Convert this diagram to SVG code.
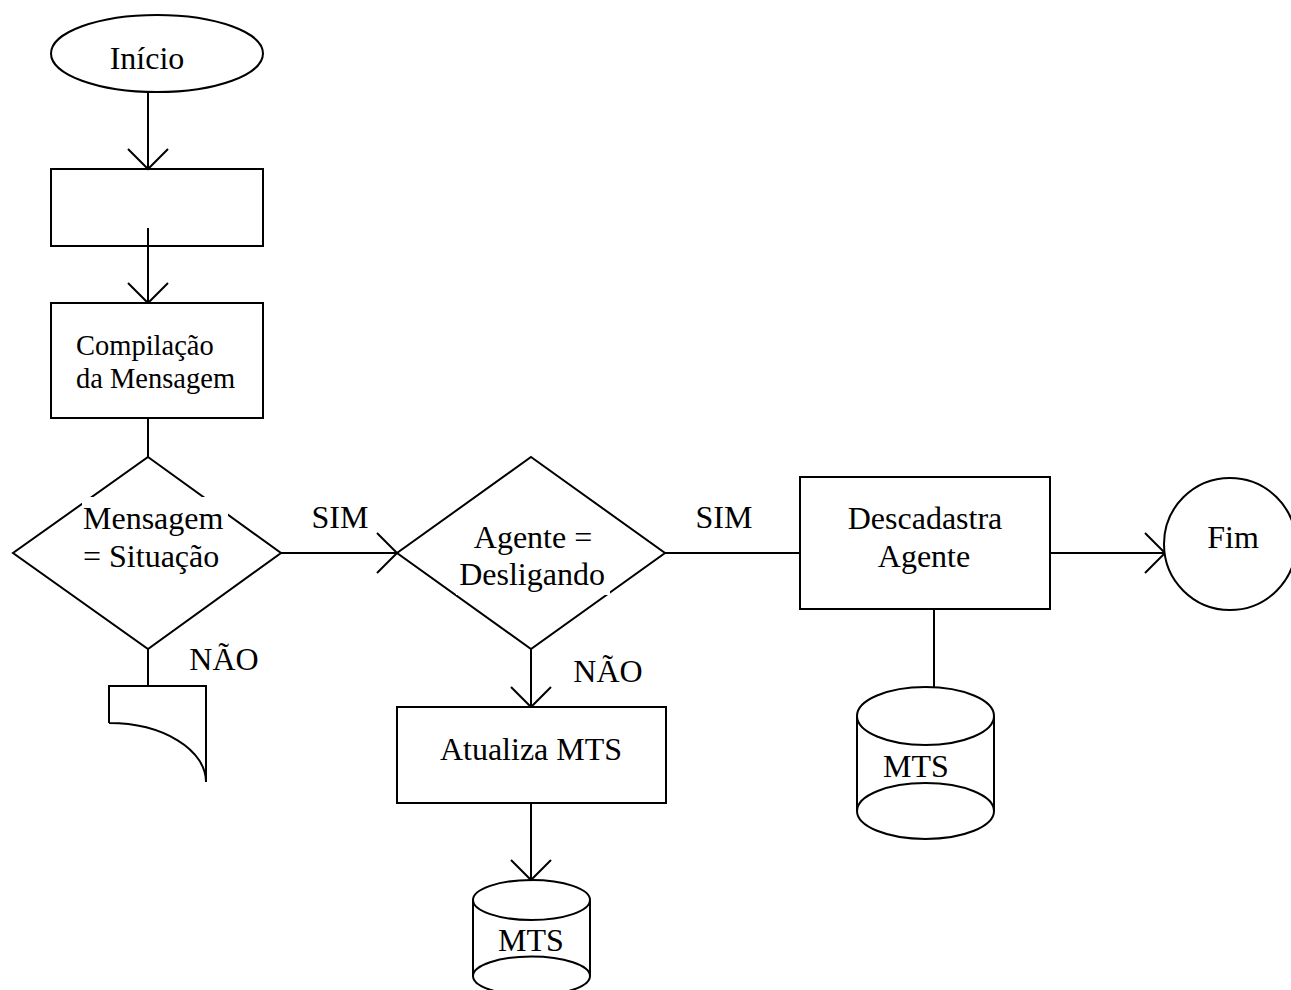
<svg xmlns="http://www.w3.org/2000/svg" width="1291" height="990" viewBox="0 0 1291 990">
  <style>
    .shape { fill: #fff; stroke: #000; stroke-width: 2; }
    .open { fill: none; stroke: #000; stroke-width: 2; }
    .edge { fill: none; stroke: #000; stroke-width: 2; }
    .mask { fill: #fff; stroke: none; }
    text { font-family: "Liberation Serif", "Times New Roman", serif; font-size: 32px; fill: #000; }
    .mid { text-anchor: middle; }
    .small { font-size: 28.5px; }
  </style>
  <defs>
    <marker id="vee" viewBox="-22 -22 24 44" refX="0" refY="0" markerWidth="24" markerHeight="44" markerUnits="userSpaceOnUse" orient="auto" overflow="visible">
      <path d="M-20,-20 L0,0 L-20,20" fill="none" stroke="#000" stroke-width="2"/>
    </marker>
  </defs>
  <rect width="1291" height="990" fill="#fff"/>

  <!-- flow connectors -->
  <g id="connectors">
    <line class="edge" x1="148" y1="92" x2="148" y2="169" marker-end="url(#vee)"/>
    <line class="edge" x1="148" y1="228" x2="148" y2="303" marker-end="url(#vee)"/>
    <line class="edge" x1="148" y1="418" x2="148" y2="457"/>
    <line class="edge" x1="281" y1="553" x2="397" y2="553" marker-end="url(#vee)"/>
    <line class="edge" x1="665" y1="553" x2="800" y2="553"/>
    <line class="edge" x1="1050" y1="553" x2="1165" y2="553" marker-end="url(#vee)"/>
    <line class="edge" x1="531" y1="649" x2="531" y2="707" marker-end="url(#vee)"/>
    <line class="edge" x1="531" y1="803" x2="531" y2="880" marker-end="url(#vee)"/>
    <line class="edge" x1="148" y1="649" x2="148" y2="686"/>
    <line class="edge" x1="934" y1="609" x2="934" y2="687"/>
  </g>

  <g id="inicio">
    <ellipse class="shape" cx="157" cy="53.5" rx="106" ry="38.5"/>
    <text class="mid" x="147" y="69">Início</text>
  </g>

  <g id="passo-vazio">
    <rect class="open" x="51" y="169" width="212" height="77"/>
  </g>

  <g id="compilacao">
    <rect class="shape" x="51" y="303" width="212" height="115"/>
    <text class="small" x="76" y="355">Compilação</text>
    <text class="small" x="76" y="388">da Mensagem</text>
  </g>

  <g id="decisao-mensagem">
    <polygon class="shape" points="148,457 281,553 148,649 13,553"/>
    <rect class="mask" x="82" y="497" width="146" height="73"/>
    <text x="83" y="529">Mensagem</text>
    <text x="83" y="567">= Situação</text>
  </g>

  <g id="rotulo-sim-1">
    <text class="mid" x="340" y="528">SIM</text>
  </g>
  <g id="rotulo-nao-1">
    <text class="mid" x="224" y="670">NÃO</text>
  </g>

  <g id="documento">
    <path class="open" d="M109,723 L109,686 L206,686 L206,782 A97 59 0 0 0 109 723"/>
  </g>

  <g id="decisao-agente">
    <polygon class="shape" points="531,457 665,553 531,649 397,553"/>
    <rect class="mask" x="456" y="520" width="154" height="75"/>
    <text class="mid" x="533" y="548">Agente =</text>
    <text class="mid" x="532" y="585">Desligando</text>
  </g>

  <g id="rotulo-sim-2">
    <text class="mid" x="724" y="528">SIM</text>
  </g>
  <g id="rotulo-nao-2">
    <text class="mid" x="608" y="682">NÃO</text>
  </g>

  <g id="atualiza">
    <rect class="shape" x="397" y="707" width="269" height="96"/>
    <text class="mid" x="531" y="760">Atualiza MTS</text>
  </g>

  <g id="mts-atualiza">
    <line class="edge" x1="473" y1="900" x2="473" y2="976"/>
    <line class="edge" x1="590" y1="900" x2="590" y2="976"/>
    <ellipse class="open" cx="531.5" cy="900" rx="58.5" ry="20"/>
    <ellipse class="open" cx="531.5" cy="976" rx="58.5" ry="19.5"/>
    <text class="mid" x="531" y="951">MTS</text>
  </g>

  <g id="descadastra">
    <rect class="shape" x="800" y="477" width="250" height="132"/>
    <text class="mid" x="925" y="529">Descadastra</text>
    <text class="mid" x="924" y="567">Agente</text>
  </g>

  <g id="mts-descadastra">
    <line class="edge" x1="857" y1="716" x2="857" y2="811"/>
    <line class="edge" x1="994" y1="716" x2="994" y2="811"/>
    <ellipse class="open" cx="925.5" cy="716" rx="68.5" ry="29"/>
    <ellipse class="open" cx="925.5" cy="811" rx="68.5" ry="28"/>
    <text class="mid" x="916" y="777">MTS</text>
  </g>

  <g id="fim">
    <circle class="shape" cx="1230" cy="544" r="66"/>
    <text class="mid" x="1233" y="548">Fim</text>
  </g>
</svg>
